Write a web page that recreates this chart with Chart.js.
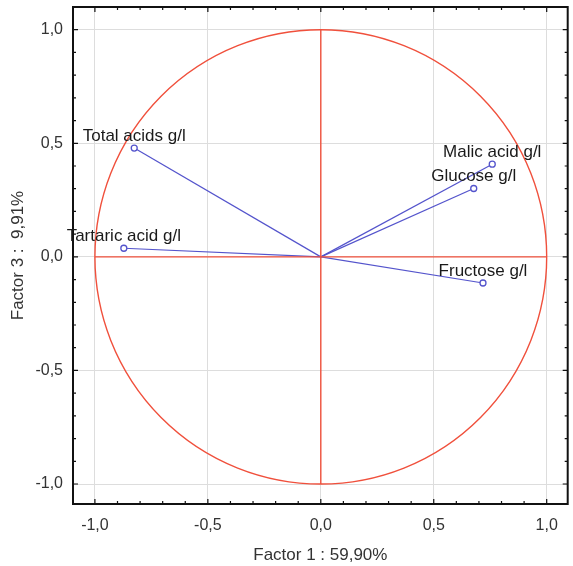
<!DOCTYPE html>
<html lang="en">
<head>
  <meta charset="UTF-8" />
  <title>Factor loadings</title>
  <script src="https://cdn.jsdelivr.net/npm/chart.js"></script>
  <style>
    html, body { margin: 0; padding: 0; background: #fff; }
    #wrap { width: 573px; height: 566px; }
  </style>
</head>
<body>
<div id="wrap"><canvas id="chart" width="573" height="566"></canvas></div>
<script>
  // loadings
  const variables = ["Total acids g/l", "Tartaric acid g/l", "Malic acid g/l", "Glucose g/l", "Fructose g/l"];
  const factor1 = [-0.826, -0.872, 0.759, 0.677, 0.718];
  const factor3 = [0.479, 0.038, 0.408, 0.301, -0.115];
  const tickValues = [-1, -0.5, 0, 0.5, 1];

  const blue = "#5454cc";
  const red = "#f0503c";
  const fmt = v => v.toFixed(1).replace(".", ",");

  const datasets = [
    { data: [{ x: -1, y: 0 }, { x: 1, y: 0 }], borderColor: red, borderWidth: 1.4, pointRadius: 0, showLine: true },
    { data: [{ x: 0, y: -1 }, { x: 0, y: 1 }], borderColor: red, borderWidth: 1.4, pointRadius: 0, showLine: true }
  ];
  variables.forEach((name, i) => {
    datasets.push({
      label: name,
      data: [{ x: 0, y: 0 }, { x: factor1[i], y: factor3[i] }],
      showLine: true,
      borderColor: blue,
      borderWidth: 1.2,
      pointRadius: [0, 3],
      pointBorderColor: blue,
      pointBackgroundColor: "#fff",
      pointBorderWidth: 1.3
    });
  });

  // unit circle, frame, inward ticks and point labels
  const extras = {
    id: "extras",
    beforeDatasetsDraw(chart) {
      const { ctx, scales: { x, y } } = chart;
      const cx = x.getPixelForValue(0), cy = y.getPixelForValue(0);
      ctx.save();
      ctx.strokeStyle = red;
      ctx.lineWidth = 1.4;
      ctx.beginPath();
      ctx.ellipse(cx, cy, x.getPixelForValue(1) - cx, cy - y.getPixelForValue(1), 0, 0, Math.PI * 2);
      ctx.stroke();
      ctx.restore();
    },
    afterDatasetsDraw(chart) {
      const { ctx, chartArea: a, scales: { x, y } } = chart;
      ctx.save();
      ctx.strokeStyle = "#111";
      ctx.lineWidth = 1.2;
      for (let i = -10; i <= 10; i++) {
        const major = i % 5 === 0;
        const len = major ? 5 : 3;
        const px = x.getPixelForValue(i / 10), py = y.getPixelForValue(i / 10);
        ctx.beginPath();
        ctx.moveTo(px, a.bottom); ctx.lineTo(px, a.bottom - len);
        ctx.moveTo(px, a.top); ctx.lineTo(px, a.top + len);
        ctx.moveTo(a.left, py); ctx.lineTo(a.left + len, py);
        ctx.moveTo(a.right, py); ctx.lineTo(a.right - len, py);
        ctx.stroke();
      }
      ctx.lineWidth = 2;
      ctx.strokeRect(a.left, a.top, a.right - a.left, a.bottom - a.top);

      ctx.fillStyle = "#1a1a1a";
      ctx.font = "17px 'Liberation Sans', Arial, sans-serif";
      ctx.textAlign = "center";
      ctx.textBaseline = "middle";
      variables.forEach((name, i) => {
        ctx.fillText(name, x.getPixelForValue(factor1[i]), y.getPixelForValue(factor3[i]) - 12);
      });
      ctx.restore();
    }
  };

  const tickFont = { family: "'Liberation Sans', Arial, sans-serif", size: 16 };
  const titleFont = { family: "'Liberation Sans', Arial, sans-serif", size: 17 };

  new Chart(document.getElementById("chart"), {
    type: "scatter",
    data: { datasets },
    options: {
      responsive: false,
      animation: false,
      layout: { padding: { top: 7, right: 2, left: 0, bottom: 0 } },
      plugins: { legend: { display: false }, tooltip: { enabled: false } },
      scales: {
        x: {
          min: -1.097, max: 1.093,
          afterBuildTicks: s => { s.ticks = tickValues.map(v => ({ value: v })); },
          afterFit: s => { s.height = 62; s.paddingLeft = 0; s.paddingRight = 0; },
          grid: { color: "#dddddd", drawTicks: false },
          border: { display: false },
          ticks: { callback: fmt, color: "#333", font: tickFont, padding: 12, maxRotation: 0 },
          title: { display: true, text: "Factor 1 : 59,90%", color: "#333", font: titleFont, padding: { top: 14, bottom: 0 } }
        },
        y: {
          min: -1.088, max: 1.1,
          afterBuildTicks: s => { s.ticks = tickValues.map(v => ({ value: v })); },
          afterFit: s => { s.width = 73; s.paddingTop = 0; s.paddingBottom = 0; },
          grid: { color: "#dddddd", drawTicks: false },
          border: { display: false },
          ticks: { callback: fmt, color: "#333", font: tickFont, padding: 10 },
          title: { display: true, text: "Factor 3 :  9,91%", color: "#333", font: titleFont, padding: { top: 8, bottom: 4 } }
        }
      }
    },
    plugins: [extras]
  });
</script>
</body>
</html>
